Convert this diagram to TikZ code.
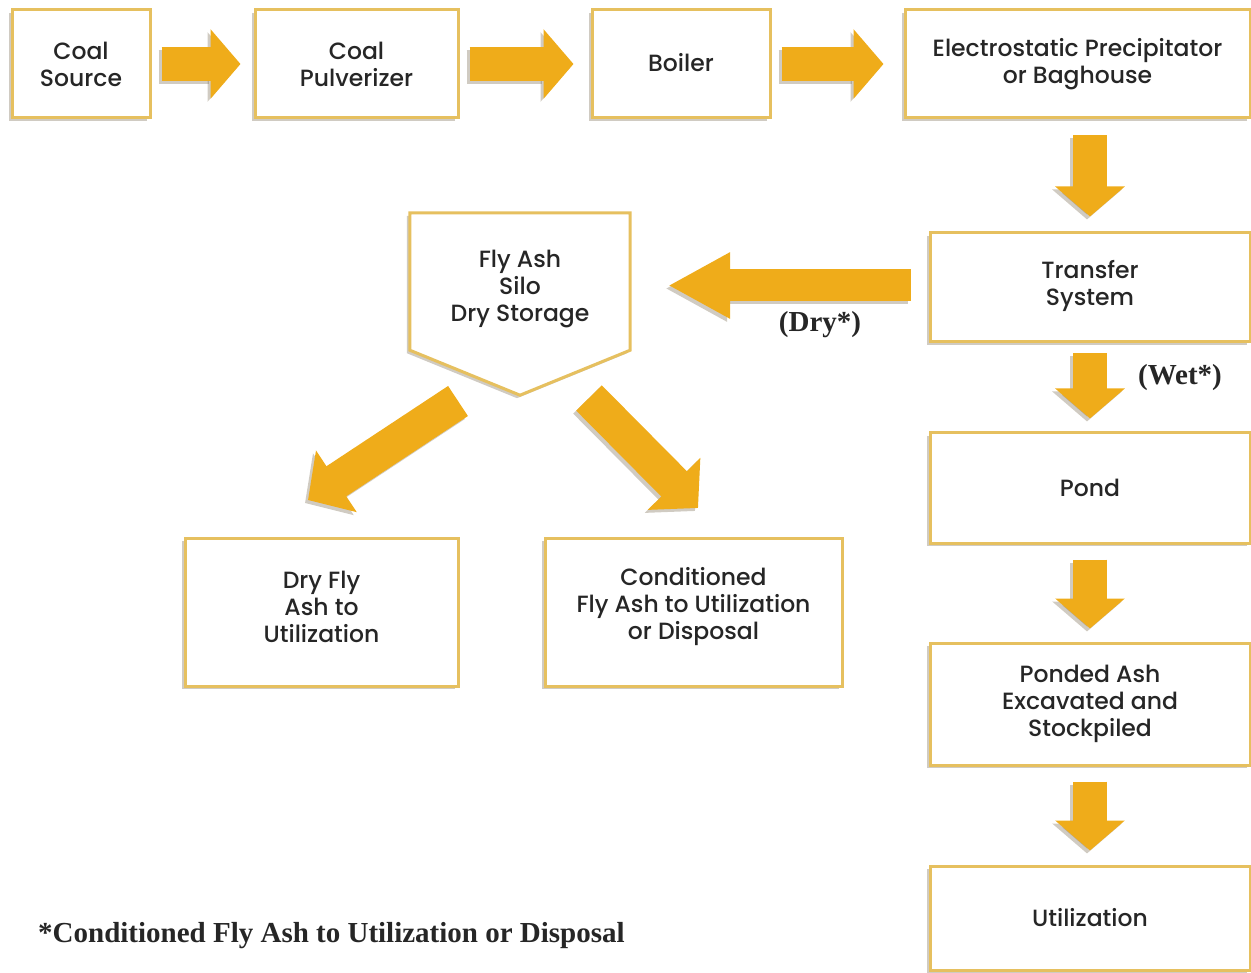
\documentclass[tikz,border=0pt]{standalone}
\usepackage{fontspec}
\setmainfont{Poppins}[UprightFont={* Medium}]
\newfontfamily\notefont{Liberation Serif}
\usetikzlibrary{arrows.meta,calc,shadows}
\definecolor{gold}{RGB}{230,192,95}
\definecolor{arrowc}{RGB}{239,172,26}
\definecolor{shade}{RGB}{120,105,80}
\definecolor{ink}{RGB}{38,38,38}
\tikzset{
  box/.style={draw=gold, line width=3pt, fill=white, inner sep=0pt,
    drop shadow={shadow xshift=-3pt, shadow yshift=-3pt, opacity=0.35, fill=shade}},
  txt/.style={align=center, text=ink, font=\fontsize{23.5}{27}\selectfont, inner sep=0pt},
  blk/.style={draw=arrowc, line width=34pt, -{Triangle[length=30pt, width=68pt]}},
  blkshadow/.style={draw=shade, opacity=0.35, transform canvas={shift={(-3pt,-3pt)}}},
  note/.style={text=ink, font=\notefont\bfseries\fontsize{29}{32}\selectfont, inner sep=0pt}
}
\newcommand\blkarrow[3]{%
  \draw[blk,blkshadow,#1] #2 -- #3;
  \draw[blk,#1] #2 -- #3;}
\begin{document}
\begin{tikzpicture}[x=1pt,y=-1pt]
\useasboundingbox (0,0) rectangle (1251,973);
% boxes
\node[box, minimum width=138pt, minimum height=108pt] (src) at (81,64) {};
\node[txt] at (src) {Coal\\Source};
\node[box, minimum width=203pt, minimum height=108pt] (pulv) at (356.5,64) {};
\node[txt] at (pulv) {Coal\\Pulverizer};
\node[box, minimum width=178pt, minimum height=108pt] (boiler) at (681,64) {};
\node[txt] at ([yshift=1.5pt]boiler.center) {Boiler};
\node[box, minimum width=345pt, minimum height=108pt] (esp) at (1077.5,64) {};
\node[txt] at (esp) {Electrostatic Precipitator\\or Baghouse};
\node[box, minimum width=320pt, minimum height=109pt] (transfer) at (1090,287.5) {};
\node[txt] at ([yshift=2pt]transfer.center) {Transfer\\System};
\node[box, minimum width=320pt, minimum height=110pt] (pond) at (1090,488) {};
\node[txt] at (pond) {Pond};
\node[box, minimum width=320pt, minimum height=122pt] (ponded) at (1090,704) {};
\node[txt] at (ponded) {Ponded Ash\\Excavated and\\Stockpiled};
\node[box, minimum width=320pt, minimum height=104pt] (util) at (1090,918) {};
\node[txt] at (util) {Utilization};
\node[box, minimum width=273pt, minimum height=148pt] (dryfly) at (321.5,612) {};
\node[txt] at ([yshift=5pt]dryfly.center) {Dry Fly\\Ash to\\Utilization};
\node[box, minimum width=297pt, minimum height=148pt] (cond) at (693.5,612) {};
\node[txt] at ([yshift=5pt]cond.center) {Conditioned\\Fly Ash to Utilization\\or Disposal};
% silo (pentagon)
\node[minimum width=220pt, minimum height=137pt, inner sep=0pt] (silo) at (520,281.5) {};
\coordinate (silotip) at ($(silo.south)+(0,45)$);
\path[box] (silo.north west) -- (silo.north east) -- (silo.south east) -- (silotip) -- (silo.south west) -- cycle;
\node[txt] (silotext) at (520,289) {Fly Ash\\Silo\\Dry Storage};
% arrows
\blkarrow{shorten <=10pt, shorten >=13pt}{(src)}{(pulv)}
\blkarrow{shorten <=10pt, shorten >=17pt}{(pulv)}{(boiler)}
\blkarrow{shorten <=10pt, shorten >=20pt}{(boiler)}{(esp)}
\blkarrow{shorten <=16pt, shorten >=15pt}{(esp.south -| transfer.north)}{(transfer.north)}
\blkarrow{line width=32pt, -{Triangle[length=62pt, width=62pt]}, shorten <=18pt, shorten >=38pt}{([yshift=2pt]transfer.west)}{([yshift=2pt]transfer.west -| silo.east)}
\blkarrow{shorten <=10pt, shorten >=13pt}{(transfer.south)}{(pond.north)}
\blkarrow{shorten <=15pt, shorten >=13pt}{(pond.south)}{(ponded.north)}
\blkarrow{shorten <=15pt, shorten >=14pt}{(ponded.south)}{(util.north)}
\coordinate (la) at (458,401);
\coordinate (lb) at (308,500);
\coordinate (ra) at (589,398);
\coordinate (rb) at (698,508);
\blkarrow{line width=36pt, -{Triangle[length=34pt, width=72pt]}}{(la)}{(lb)}
\blkarrow{line width=36pt, -{Triangle[length=34pt, width=72pt]}}{(ra)}{(rb)}
% labels
\node[note] (drylbl) at (820,325) {(Dry*)};
\node[note] (wetlbl) at (1180,378) {(Wet*)};
\node[note, anchor=base west] (foot) at (38,942) {*Conditioned Fly Ash to Utilization or Disposal};
\end{tikzpicture}
\end{document}
